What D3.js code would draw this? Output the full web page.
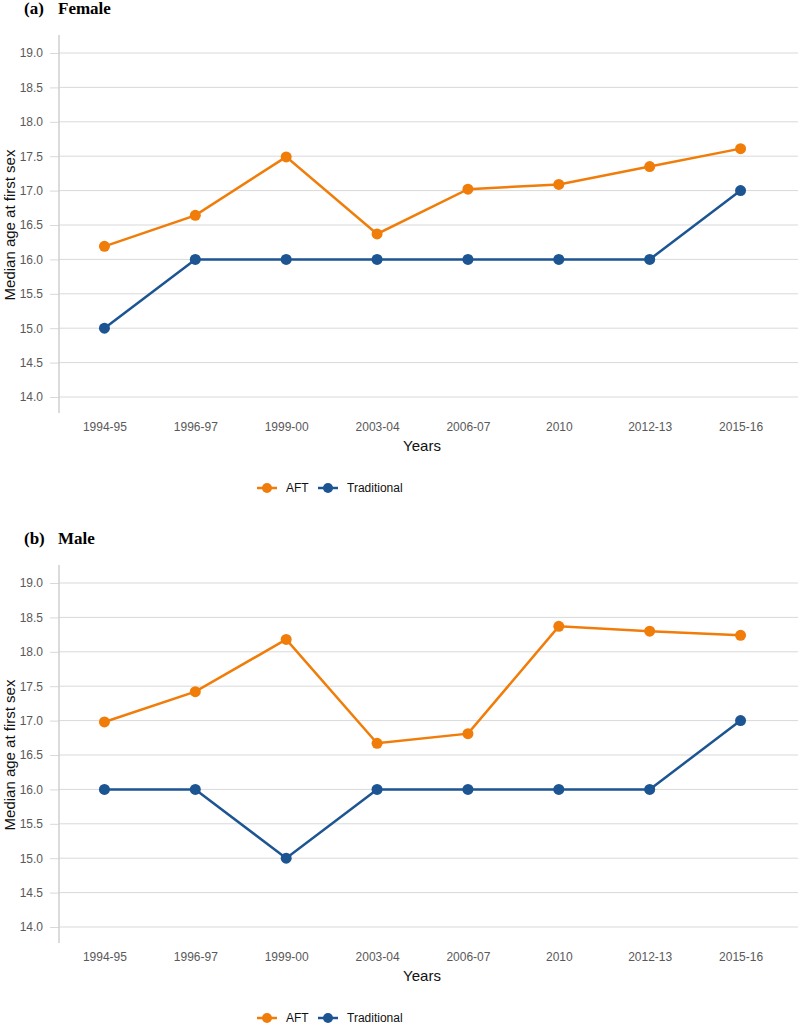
<!DOCTYPE html>
<html>
<head>
<meta charset="utf-8">
<script src="https://cdn.jsdelivr.net/npm/d3@7"></script>
<style>
  body { margin: 0; background: #fff; }
  svg text { font-family: "Liberation Sans", Arial, sans-serif; }
</style>
</head>
<body>
<svg width="798" height="1024"></svg>
<script>
// data
var years = ["1994-95", "1996-97", "1999-00", "2003-04", "2006-07", "2010", "2012-13", "2015-16"];
var yTicks = [14.0, 14.5, 15.0, 15.5, 16.0, 16.5, 17.0, 17.5, 18.0, 18.5, 19.0];
var femaleAFT = [16.19, 16.64, 17.49, 16.37, 17.02, 17.09, 17.35, 17.61];
var femaleTrad = [15, 16, 16, 16, 16, 16, 16, 17];
var maleAFT = [16.98, 17.42, 18.18, 16.67, 16.81, 18.37, 18.30, 18.24];
var maleTrad = [16, 16, 15, 16, 16, 16, 16, 17];
var seriesNames = ["AFT", "Traditional"];
// end of data

var svg = d3.select("svg");
var colors = ["#f07d0a", "#1c5592"];

function drawPanel(top, title, aft, trad) {
  var g = svg.append("g").attr("transform", "translate(0," + top + ")");

  g.append("text")
    .attr("x", 24).attr("y", 14)
    .style("font-family", "'Liberation Serif', 'Times New Roman', serif")
    .style("font-weight", "bold").style("font-size", "17px")
    .text("(" + title[0] + ")");
  g.append("text")
    .attr("x", 58).attr("y", 14)
    .style("font-family", "'Liberation Serif', 'Times New Roman', serif")
    .style("font-weight", "bold").style("font-size", "17px")
    .text(title[1]);

  var x = d3.scalePoint().domain(years).range([59, 786]).padding(0.5);
  var y = d3.scaleLinear().domain([14, 19]).range([397, 53]);

  // gridlines
  g.append("g").selectAll("line")
    .data(yTicks).enter().append("line")
      .attr("x1", 59).attr("x2", 798)
      .attr("y1", function(d) { return y(d); })
      .attr("y2", function(d) { return y(d); })
      .attr("stroke", "#d9d9d9").attr("stroke-width", 1);

  // y axis
  var yAxis = g.append("g").attr("transform", "translate(59,0)")
    .call(d3.axisLeft(y).tickValues(yTicks).tickFormat(d3.format(".1f")).tickSize(9).tickPadding(7));
  yAxis.select(".domain").remove();
  yAxis.selectAll(".tick line").attr("stroke", "#d9d9d9");
  yAxis.selectAll("text").attr("fill", "#595959").style("font-size", "12px");
  g.append("line")
    .attr("x1", 59).attr("x2", 59).attr("y1", 35).attr("y2", 413)
    .attr("stroke", "#cfcfcf").attr("stroke-width", 1.5);

  // x axis
  var xAxis = g.append("g").attr("transform", "translate(0,413)")
    .call(d3.axisBottom(x).tickSize(0).tickPadding(9));
  xAxis.select(".domain").remove();
  xAxis.selectAll("text").attr("fill", "#595959").style("font-size", "12px");

  g.append("text")
    .attr("x", 422).attr("y", 451)
    .attr("text-anchor", "middle")
    .style("font-size", "15px").attr("fill", "#111")
    .text("Years");

  g.append("text")
    .attr("transform", "translate(15," + 225 + ") rotate(-90)")
    .attr("text-anchor", "middle")
    .style("font-size", "15px").attr("fill", "#111")
    .text("Median age at first sex");

  var line = d3.line()
    .x(function(d, i) { return x(years[i]); })
    .y(function(d) { return y(d); });

  [aft, trad].forEach(function(vals, k) {
    g.append("path").datum(vals)
      .attr("d", line)
      .attr("fill", "none")
      .attr("stroke", colors[k]).attr("stroke-width", 2.5);
    g.append("g").selectAll("circle")
      .data(vals).enter().append("circle")
        .attr("cx", function(d, i) { return x(years[i]); })
        .attr("cy", function(d) { return y(d); })
        .attr("r", 5.5)
        .attr("fill", colors[k]);
  });

  // legend
  var leg = g.append("g").attr("transform", "translate(0,488)");
  var legX = [257, 318];
  seriesNames.forEach(function(name, k) {
    leg.append("line")
      .attr("x1", legX[k]).attr("x2", legX[k] + 20)
      .attr("y1", 0).attr("y2", 0)
      .attr("stroke", colors[k]).attr("stroke-width", 2.5);
    leg.append("circle")
      .attr("cx", legX[k] + 10).attr("cy", 0).attr("r", 5)
      .attr("fill", colors[k]);
    leg.append("text")
      .attr("x", legX[k] + 29).attr("y", 4)
      .style("font-size", "12px").attr("fill", "#111")
      .text(name);
  });
}

drawPanel(0, ["a", "Female"], femaleAFT, femaleTrad);
drawPanel(530, ["b", "Male"], maleAFT, maleTrad);
</script>
</body>
</html>
